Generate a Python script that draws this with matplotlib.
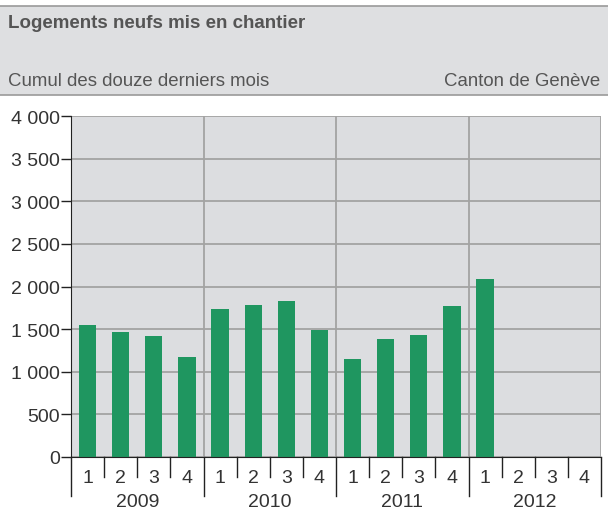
import matplotlib
matplotlib.use("Agg")
import matplotlib.pyplot as plt
import matplotlib.transforms as mtransforms
from matplotlib.patches import Rectangle
from matplotlib.ticker import FuncFormatter

plt.rcParams['font.family'] = ['Liberation Sans', 'DejaVu Sans']

years = ["2009", "2010", "2011", "2012"]
quarters = ["1", "2", "3", "4"]
# cumulative over last 12 months, per quarter (2009 Q1 .. 2012 Q1)
values = [1550, 1465, 1420, 1170,
          1735, 1785, 1830, 1490,
          1150, 1385, 1430, 1770,
          2090]

BG = "#dcdde0"
GRID = "#a3a3a3"
BAR = "#1f9660"
TXT = "#333333"

fig = plt.figure(figsize=(6.08, 5.10), dpi=100)

# header band
fig.patches.append(Rectangle((0, 1 - 96 / 510), 1, 89 / 510, transform=fig.transFigure,
                             facecolor="#dedfe1", edgecolor="none", zorder=0))
for yy in (7, 96):
    fig.add_artist(plt.Line2D([0, 1], [1 - yy / 510] * 2, color="#9a9a9a", lw=1.2))
fig.text(8 / 608, 1 - 23 / 510, "Logements neufs mis en chantier", fontsize=13.5,
         fontweight="bold", color="#555555", va="center", ha="left")
fig.text(8 / 608, 1 - 82 / 510, "Cumul des douze derniers mois", fontsize=13.4,
         color="#555555", va="center", ha="left")
fig.text(600 / 608, 1 - 82 / 510, "Canton de Genève", fontsize=13.4,
         color="#555555", va="center", ha="right")

ax = fig.add_axes([71 / 608, 1 - 458 / 510, 530 / 608, 341 / 510])
ax.set_facecolor(BG)

n = len(years) * len(quarters)
xs = [i + 0.5 for i in range(len(values))]
ax.bar(xs, values, width=0.52, color=BAR, zorder=3)

ax.set_xlim(0, n)
ax.set_ylim(0, 4000)
ax.set_yticks(range(0, 4001, 500))
ax.yaxis.set_major_formatter(FuncFormatter(lambda v, p: f"{int(v):,}".replace(",", " ")))
ax.tick_params(axis="y", length=7, width=1, color="#222222", labelsize=14, labelcolor=TXT, pad=1)
ax.set_xticks([])
ax.grid(axis="y", color=GRID, lw=1.3, zorder=1)
for k in range(1, len(years) + 1):
    ax.axvline(k * len(quarters), color=GRID, lw=1.3, zorder=1)

for side in ("top", "right"):
    ax.spines[side].set_visible(False)
ax.spines["left"].set_color("#222222")
ax.spines["bottom"].set_color("#222222")
ax.spines["left"].set_zorder(4)
ax.spines["bottom"].set_zorder(4)

trans = mtransforms.blended_transform_factory(ax.transData, ax.transAxes)
px = 1 / 341  # one pixel in axes-y units
for i in range(n + 1):
    bottom = -39 * px if i % len(quarters) == 0 else -20 * px
    ax.plot([i, i], [0, bottom], transform=trans, color="#222222", lw=1,
            clip_on=False, zorder=4)

for yi, yr in enumerate(years):
    for qi, q in enumerate(quarters):
        ax.text(yi * len(quarters) + qi + 0.5, -21 * px, q, transform=trans,
                ha="center", va="center", fontsize=14, color=TXT)
    ax.text(yi * len(quarters) + len(quarters) / 2, -45 * px, yr, transform=trans,
            ha="center", va="center", fontsize=14, color=TXT)

fig.savefig("out.png", dpi=100)
